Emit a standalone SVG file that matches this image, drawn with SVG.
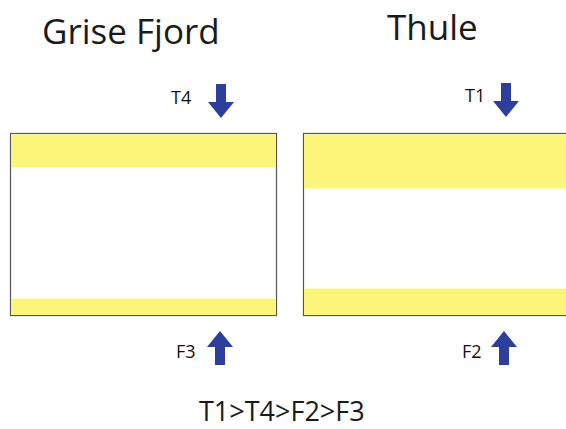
<svg xmlns="http://www.w3.org/2000/svg" width="566" height="429" viewBox="0 0 566 429">
<style>
.title{font-family:"Open Sans","Liberation Sans",sans-serif;font-size:35px;fill:#1a1a1a}
.lbl{font-family:"Open Sans","Liberation Sans",sans-serif;font-size:18px;fill:#111}
.eq{font-family:"Open Sans","Liberation Sans",sans-serif;font-size:27px;fill:#1a1a1a}
.box{fill:#ffffff;stroke:#555;stroke-width:1.2}
.band{fill:#fbf57a}
.arr{fill:#2c3f9c}
</style>
<defs>
<path id="down" d="M-5,0 H5 V18 H13 L0,34 L-13,18 H-5 Z"/>
<path id="up" d="M-5,34 H5 V16 H13 L0,0 L-13,16 H-5 Z"/>
</defs>
<rect width="566" height="429" fill="#ffffff"/>
<g id="title-grise"><text class="title" x="42" y="44">Grise Fjord</text></g>
<g id="title-thule"><text class="title" x="387" y="40">Thule</text></g>
<g id="box-grise">
<rect class="box" x="10.5" y="133.5" width="266" height="182"/>
<rect class="band" x="11" y="134.5" width="265" height="33"/>
<rect class="band" x="11" y="298.5" width="265" height="16.5"/>
</g>
<g id="box-thule">
<rect class="box" x="303.5" y="133.5" width="270" height="182"/>
<rect class="band" x="304" y="134.5" width="266" height="54"/>
<rect class="band" x="304" y="288.5" width="266" height="26.5"/>
</g>
<g id="T4"><text class="lbl" x="171" y="104">T4</text><use href="#down" class="arr" x="221" y="84"/></g>
<g id="T1"><text class="lbl" x="465" y="102">T1</text><use href="#down" class="arr" x="506" y="83"/></g>
<g id="F3"><text class="lbl" x="176" y="358">F3</text><use href="#up" class="arr" x="220" y="331"/></g>
<g id="F2"><text class="lbl" x="462" y="358">F2</text><use href="#up" class="arr" x="504" y="331"/></g>
<g id="order"><text class="eq" x="199" y="421">T1&gt;T4&gt;F2&gt;F3</text></g>
<g id="connectors"/>
</svg>
